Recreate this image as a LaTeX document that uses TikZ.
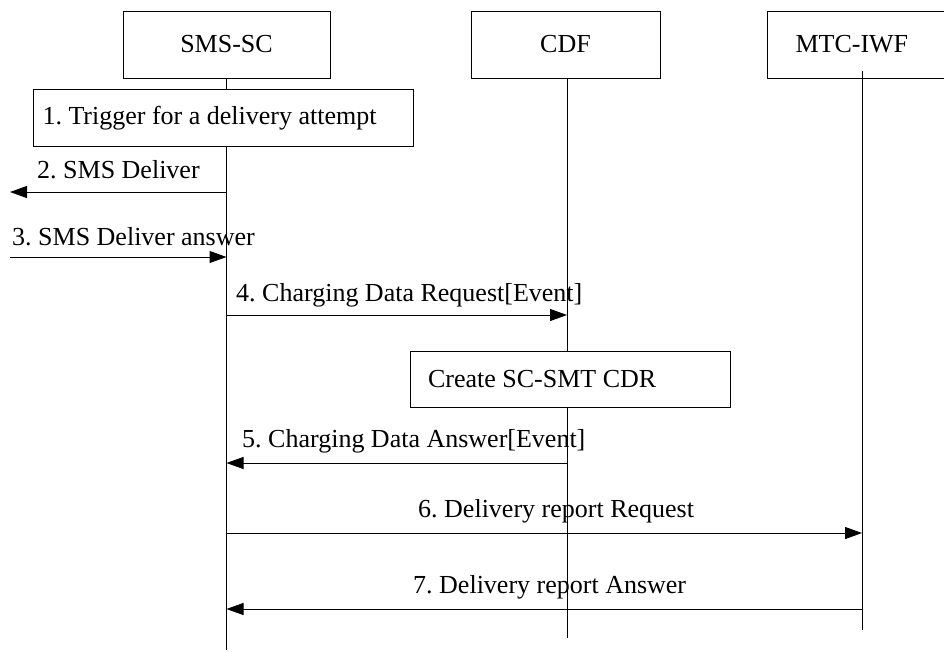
\documentclass[tikz,border=0pt]{standalone}
\usepackage{fontspec}
\setmainfont{Liberation Serif}
\frenchspacing
\usetikzlibrary{arrows.meta}

\begin{document}
\begin{tikzpicture}[x=1pt,y=-1pt,
	every node/.style={font=\fontsize{26}{31}\selectfont},
	entity/.style={draw,line width=1pt,fill=white,minimum height=67pt},
	action/.style={draw,line width=1pt,fill=white,align=flush left,inner xsep=9pt},
	lifeline/.style={line width=1pt},
	msg/.style={line width=1pt,-{Triangle[length=17pt,width=12pt]}},
	msglabel/.style={anchor=base west,inner sep=0pt}]

	\useasboundingbox (0,0) rectangle (944,651);

	% entities
	\node[entity,minimum width=207pt] (sms) at (226.5,44.5) {SMS-SC};
	\node[entity,minimum width=189pt] (cdf) at (565.5,44.5) {CDF};
	\node[entity,anchor=west,align=flush left,text width=165pt,inner xsep=28pt] (mtc) at (767,44.5) {MTC-IWF};

	% lifelines
	\coordinate (smsend) at (226.5,650);
	\coordinate (cdfend) at (567,638);
	\coordinate (mtctop) at (862,71);
	\coordinate (mtcend) at (862,630);
	\draw[lifeline] (sms) -- (smsend);
	\draw[lifeline] (cdf.south -| cdfend) -- (cdfend);
	\draw[lifeline] (mtctop) -- (mtcend);

	% rows
	\coordinate (r2) at (10,192);
	\coordinate (r3) at (10,257);
	\coordinate (r4) at (0,315);
	\coordinate (r5) at (0,463);
	\coordinate (r6) at (0,533);
	\coordinate (r7) at (0,609);

	\node[action,anchor=north west,minimum height=57pt,text width=362pt] (trig) at (33,89)
		{1. Trigger for a delivery attempt};

	\node[msglabel] (l2) at (37,178) {2. SMS Deliver};
	\draw[msg] (sms |- r2) -- (r2);

	\node[msglabel] (l3) at (12,245) {3. SMS Deliver answer};
	\draw[msg] (r3) -- (sms |- r3);

	\node[msglabel] (l4) at (236,301) {4. Charging Data Request[Event]};
	\draw[msg] (sms |- r4) -- (cdfend |- r4);

	\node[action,inner xsep=18pt,text width=284pt,minimum height=56pt] (cdr) at (570,379)
		{Create SC-SMT CDR};

	\node[msglabel] (l5) at (242,447) {5. Charging Data Answer[Event]};
	\draw[msg] (cdfend |- r5) -- (sms |- r5);

	\node[msglabel] (l6) at (418,517) {6. Delivery report Request};
	\draw[msg] (sms |- r6) -- (mtcend |- r6);

	\node[msglabel] (l7) at (413,593) {7. Delivery report Answer};
	\draw[msg] (mtcend |- r7) -- (sms |- r7);
\end{tikzpicture}
\end{document}
